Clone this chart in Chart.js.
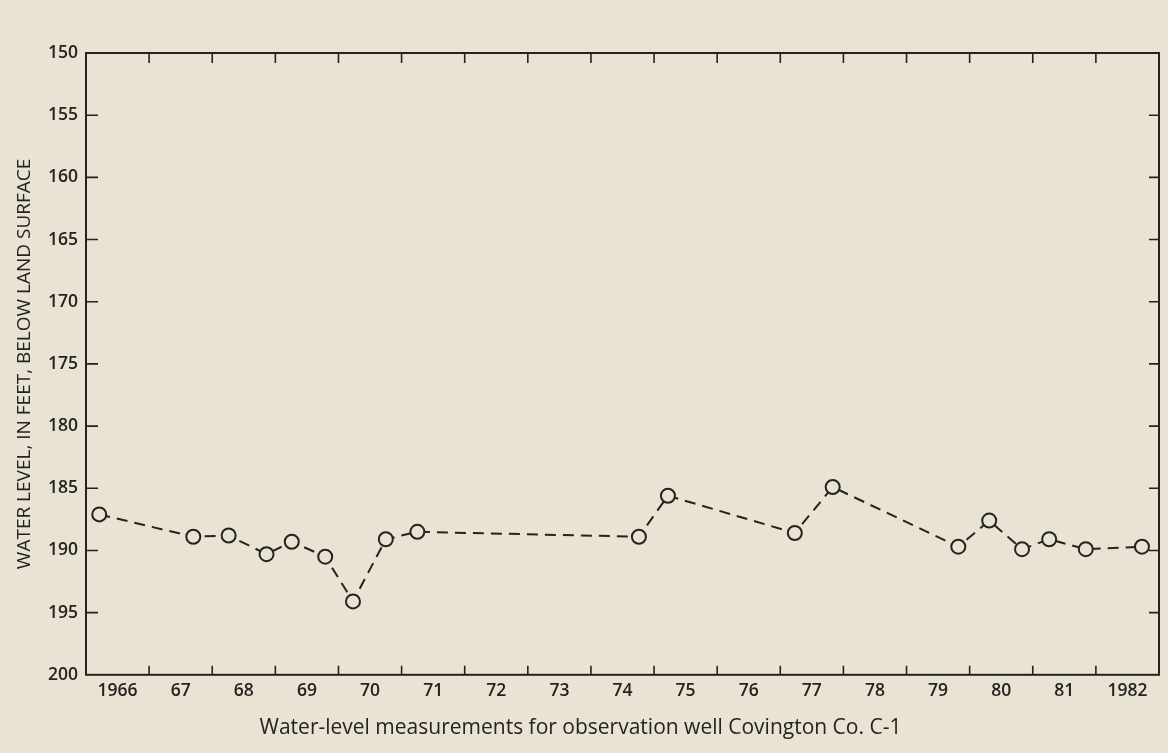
<!DOCTYPE html>
<html>
<head>
<meta charset="utf-8">
<script src="https://cdn.jsdelivr.net/npm/chart.js@4/dist/chart.umd.min.js"></script>
<style>
    body { margin: 0; background: #e8e3d2; }
    #wrap { width: 1168px; height: 753px; position: relative; }
</style>
</head>
<body>
<div id="wrap"><canvas id="well"></canvas></div>
<script>
// measurement dates (decimal years) and depth to water, feet below land surface
const measuredAt = [
    1966.21, 1967.70, 1968.26, 1968.86, 1969.26, 1969.79, 1970.23, 1970.75, 1971.25,
    1974.76, 1975.22, 1977.23, 1977.83, 1979.82, 1980.31, 1980.83, 1981.26, 1981.84, 1982.73
]
const waterLevel = [
    187.1, 188.9, 188.8, 190.3, 189.3, 190.5, 194.1, 189.1, 188.5,
    188.9, 185.6, 188.6, 184.9, 189.7, 187.6, 189.9, 189.1, 189.9, 189.7
]
const years = [1966, 1967, 1968, 1969, 1970, 1971, 1972, 1973, 1974, 1975, 1976, 1977, 1978, 1979, 1980, 1981, 1982]
const yearLabels = ['1966', '67', '68', '69', '70', '71', '72', '73', '74', '75', '76', '77', '78', '79', '80', '81', '1982']
const depthTicks = [150, 155, 160, 165, 170, 175, 180, 185, 190, 195, 200]

const ink = '#26221f'
const paper = '#e8e3d2'

// frame + inward tick marks like the printed figure
const frameTicks = {
    id: 'frameTicks',
    beforeDatasetsDraw(chart) {
        let ctx = chart.ctx
        let a = chart.chartArea
        let x = chart.scales.x
        let y = chart.scales.y
        ctx.save()
        ctx.strokeStyle = ink
        ctx.lineWidth = 2
        ctx.strokeRect(a.left, a.top, a.right - a.left, a.bottom - a.top)
        ctx.lineWidth = 1.6
        ctx.beginPath()
        depthTicks.slice(1, -1).forEach(function (v) {
            let py = y.getPixelForValue(v)
            ctx.moveTo(a.left, py); ctx.lineTo(a.left + 12, py)
            ctx.moveTo(a.right, py); ctx.lineTo(a.right - 10, py)
        })
        years.slice(1).forEach(function (v) {
            let px = x.getPixelForValue(v)
            ctx.moveTo(px, a.bottom); ctx.lineTo(px, a.bottom - 9)
            ctx.moveTo(px, a.top); ctx.lineTo(px, a.top + 10)
        })
        ctx.stroke()
        ctx.restore()
    }
}

let ctx = document.getElementById('well')
let wellChart = new Chart(ctx, {
    type: 'line',
    data: {
        datasets: [{
            data: measuredAt.map(function (t, i) { return { x: t, y: waterLevel[i] } }),
            borderColor: ink,
            borderWidth: 2,
            borderDash: [11, 7],
            pointRadius: 7,
            pointBorderWidth: 2,
            pointBorderColor: ink,
            pointBackgroundColor: paper,
            tension: 0,
            clip: false
        }]
    },
    options: {
        responsive: true,
        maintainAspectRatio: false,
        animation: false,
        layout: {
            padding: { top: 53, right: 7, left: 0, bottom: 0 }
        },
        plugins: {
            legend: { display: false },
            tooltip: { enabled: false },
            title: {
                display: true,
                position: 'bottom',
                text: 'Water-level measurements for observation well Covington Co. C-1',
                color: ink,
                font: { family: 'Open Sans', size: 21, weight: '400' },
                padding: { top: 1, bottom: 12 }
            }
        },
        scales: {
            x: {
                type: 'linear',
                min: 1966,
                max: 1983,
                grid: { display: false, drawTicks: false },
                border: { display: false },
                afterBuildTicks: function (scale) {
                    scale.ticks = years.map(function (v) { return { value: v + 0.5 } })
                },
                afterFit: function (scale) { scale.height = 40 },
                ticks: {
                    autoSkip: false,
                    maxRotation: 0,
                    padding: 6,
                    color: ink,
                    font: { family: 'Open Sans', size: 17.5, weight: '600' },
                    callback: function (value, index) { return yearLabels[index] }
                }
            },
            y: {
                reverse: true,
                min: 150,
                max: 200,
                grid: { display: false, drawTicks: false },
                border: { display: false },
                afterBuildTicks: function (scale) {
                    scale.ticks = depthTicks.map(function (v) { return { value: v } })
                },
                afterFit: function (scale) { scale.width = 86 },
                ticks: {
                    padding: 8,
                    color: ink,
                    font: { family: 'Open Sans', size: 17.5, weight: '600' }
                },
                title: {
                    display: true,
                    text: 'WATER LEVEL, IN FEET, BELOW LAND SURFACE',
                    color: ink,
                    font: { family: 'Open Sans', size: 19, weight: '400' },
                    padding: { top: 13, bottom: 0 }
                }
            }
        }
    },
    plugins: [frameTicks]
})
</script>
</body>
</html>
